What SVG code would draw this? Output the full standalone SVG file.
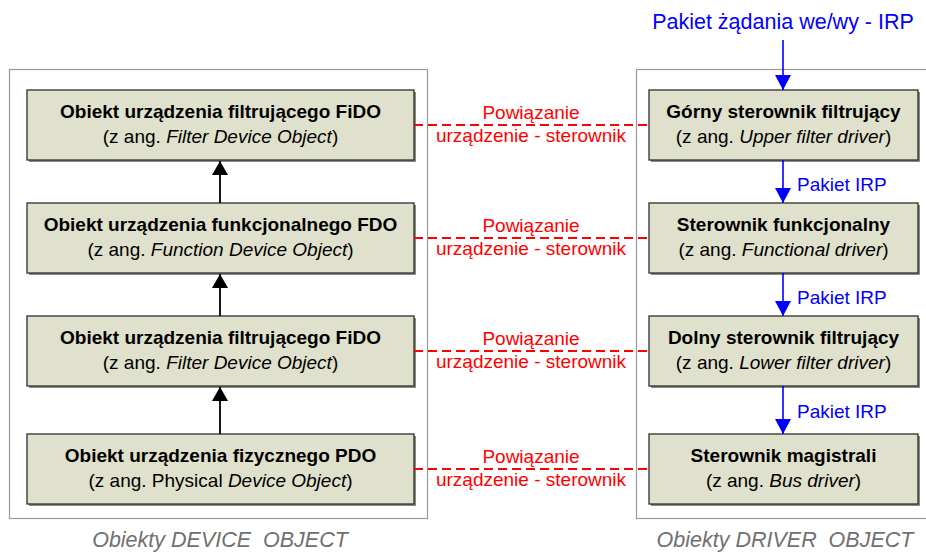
<svg xmlns="http://www.w3.org/2000/svg" width="926" height="553" viewBox="0 0 926 553">
  <style>
    text { font-family: "Liberation Sans", Arial, sans-serif; }
    .frame { fill: none; stroke: #9a9a9a; stroke-width: 1.2; }
    .box { fill: #e0e1cc; stroke: #2e2e2e; stroke-width: 1.3; }
    .shadow { fill: #8a8a80; }
    .title { font-size: 19px; font-weight: bold; fill: #000; text-anchor: middle; }
    .sub { font-size: 19px; fill: #000; text-anchor: middle; }
    .bind { fill: none; stroke: #ff0000; stroke-width: 2; stroke-dasharray: 9 5; }
    .bindtxt { font-size: 19px; fill: #ff0000; text-anchor: middle; }
    .irp { stroke: #0000ff; stroke-width: 1.6; fill: none; }
    .irptxt { font-size: 19px; fill: #0000ff; }
    .irphead { font-size: 21.5px; text-anchor: middle; }
    .up { stroke: #000; stroke-width: 1.8; fill: none; }
    .caption { font-size: 21.5px; font-style: italic; fill: #707070; text-anchor: middle; white-space: pre; }
  </style>
  <defs>
    <marker id="headBlack" viewBox="0 0 14 16" refX="14" refY="8" markerWidth="14" markerHeight="16" markerUnits="userSpaceOnUse" orient="auto">
      <path d="M0,0 L14,8 L0,16 Z" fill="#000"/>
    </marker>
    <marker id="headBlue" viewBox="0 0 15 16" refX="15" refY="8" markerWidth="15" markerHeight="16" markerUnits="userSpaceOnUse" orient="auto">
      <path d="M0,0 L15,8 L0,16 Z" fill="#0000ff"/>
    </marker>
  </defs>

  <!-- group frames -->
  <rect class="frame" x="9.5" y="69.5" width="418" height="449"/>
  <rect class="frame" x="636.5" y="69.5" width="300" height="449"/>

  <!-- device objects -->
  <g id="fido-upper">
    <rect class="shadow" x="29" y="92" width="387" height="70"/>
    <rect class="box" x="27" y="90" width="387" height="70"/>
    <text class="title" x="220.5" y="118">Obiekt urządzenia filtrującego FiDO</text>
    <text class="sub" x="220.5" y="143">(z ang. <tspan font-style="italic">Filter Device Object</tspan>)</text>
  </g>
  <g id="fdo">
    <rect class="shadow" x="29" y="205" width="387" height="70"/>
    <rect class="box" x="27" y="203" width="387" height="70"/>
    <text class="title" x="220.5" y="231">Obiekt urządzenia funkcjonalnego FDO</text>
    <text class="sub" x="220.5" y="256">(z ang. <tspan font-style="italic">Function Device Object</tspan>)</text>
  </g>
  <g id="fido-lower">
    <rect class="shadow" x="29" y="318" width="387" height="70"/>
    <rect class="box" x="27" y="316" width="387" height="70"/>
    <text class="title" x="220.5" y="344">Obiekt urządzenia filtrującego FiDO</text>
    <text class="sub" x="220.5" y="369">(z ang. <tspan font-style="italic">Filter Device Object</tspan>)</text>
  </g>
  <g id="pdo">
    <rect class="shadow" x="29" y="436" width="387" height="70"/>
    <rect class="box" x="27" y="434" width="387" height="70"/>
    <text class="title" x="220.5" y="462">Obiekt urządzenia fizycznego PDO</text>
    <text class="sub" x="220.5" y="487">(z ang. Physical <tspan font-style="italic">Device Object</tspan>)</text>
  </g>

  <!-- driver objects -->
  <g id="upper-filter">
    <rect class="shadow" x="651" y="92" width="269" height="70"/>
    <rect class="box" x="649" y="90" width="269" height="70"/>
    <text class="title" x="783.5" y="118">Górny sterownik filtrujący</text>
    <text class="sub" x="783.5" y="143">(z ang. <tspan font-style="italic">Upper filter driver</tspan>)</text>
  </g>
  <g id="function-driver">
    <rect class="shadow" x="651" y="205" width="269" height="70"/>
    <rect class="box" x="649" y="203" width="269" height="70"/>
    <text class="title" x="783.5" y="231">Sterownik funkcjonalny</text>
    <text class="sub" x="783.5" y="256">(z ang. <tspan font-style="italic">Functional driver</tspan>)</text>
  </g>
  <g id="lower-filter">
    <rect class="shadow" x="651" y="318" width="269" height="70"/>
    <rect class="box" x="649" y="316" width="269" height="70"/>
    <text class="title" x="783.5" y="344">Dolny sterownik filtrujący</text>
    <text class="sub" x="783.5" y="369">(z ang. <tspan font-style="italic">Lower filter driver</tspan>)</text>
  </g>
  <g id="bus-driver">
    <rect class="shadow" x="651" y="436" width="269" height="70"/>
    <rect class="box" x="649" y="434" width="269" height="70"/>
    <text class="title" x="783.5" y="462">Sterownik magistrali</text>
    <text class="sub" x="783.5" y="487">(z ang. <tspan font-style="italic">Bus driver</tspan>)</text>
  </g>

  <!-- connectors -->
  <g id="connectors">
    <!-- device stack, bottom to top -->
    <line class="up" x1="220" y1="434" x2="220" y2="387" marker-end="url(#headBlack)"/>
    <line class="up" x1="220" y1="316" x2="220" y2="274" marker-end="url(#headBlack)"/>
    <line class="up" x1="220" y1="203" x2="220" y2="161" marker-end="url(#headBlack)"/>

    <!-- IRP flow through the driver stack -->
    <line class="irp" x1="783" y1="40" x2="783" y2="90" marker-end="url(#headBlue)"/>
    <line class="irp" x1="783" y1="160" x2="783" y2="203" marker-end="url(#headBlue)"/>
    <line class="irp" x1="783" y1="273" x2="783" y2="316" marker-end="url(#headBlue)"/>
    <line class="irp" x1="783" y1="386" x2="783" y2="434" marker-end="url(#headBlue)"/>

    <!-- device to driver bindings -->
    <line class="bind" x1="414" y1="125" x2="649" y2="125"/>
    <line class="bind" x1="414" y1="238" x2="649" y2="238"/>
    <line class="bind" x1="414" y1="351" x2="649" y2="351"/>
    <line class="bind" x1="414" y1="469" x2="649" y2="469"/>
  </g>

  <!-- connector labels -->
  <g id="labels">
    <text class="irptxt irphead" x="783" y="29">Pakiet żądania we/wy - IRP</text>
    <text class="irptxt" x="797" y="191">Pakiet IRP</text>
    <text class="irptxt" x="797" y="304">Pakiet IRP</text>
    <text class="irptxt" x="797" y="418">Pakiet IRP</text>

    <text class="bindtxt" x="531" y="119">Powiązanie</text>
    <text class="bindtxt" x="531" y="142">urządzenie - sterownik</text>
    <text class="bindtxt" x="531" y="232">Powiązanie</text>
    <text class="bindtxt" x="531" y="255">urządzenie - sterownik</text>
    <text class="bindtxt" x="531" y="345">Powiązanie</text>
    <text class="bindtxt" x="531" y="368">urządzenie - sterownik</text>
    <text class="bindtxt" x="531" y="463">Powiązanie</text>
    <text class="bindtxt" x="531" y="486">urządzenie - sterownik</text>
  </g>

  <!-- group captions -->
  <text class="caption" x="220" y="547">Obiekty DEVICE  OBJECT</text>
  <text class="caption" x="785" y="547">Obiekty DRIVER  OBJECT</text>
</svg>
